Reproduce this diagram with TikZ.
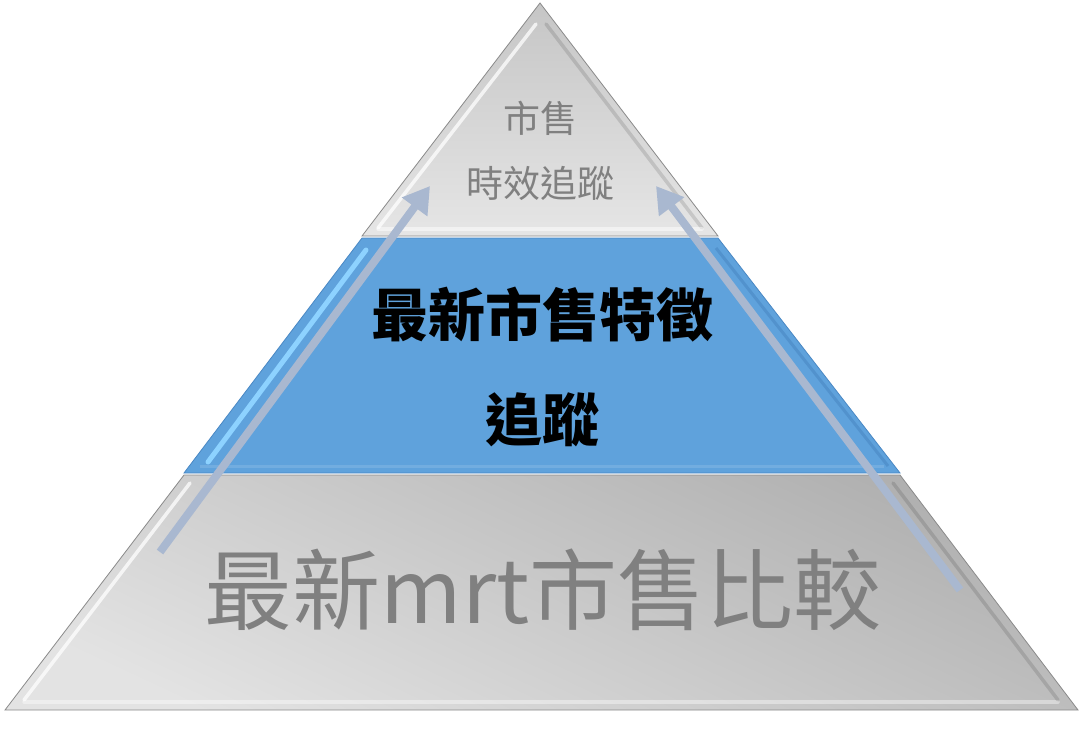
\documentclass[tikz,border=0pt]{standalone}
\usepackage{fontspec}
\newfontfamily\cjk{Noto Sans CJK TC}
\usetikzlibrary{arrows.meta}
\definecolor{bandblue}{HTML}{5FA2DC}
\definecolor{bandlight}{HTML}{8DD2FF}
\definecolor{banddark}{HTML}{4A88C4}
\definecolor{arrowcol}{HTML}{A9B8D0}
\definecolor{txtgray}{HTML}{808080}
\definecolor{edgegray}{HTML}{8A8A8A}
\tikzset{
  layeredge/.style={draw=edgegray, line width=0.8pt},
  hilite/.style={white, line width=3.5pt, opacity=0.75, line cap=round},
  shadowline/.style={black, line width=3.5pt, opacity=0.12, line cap=round},
  flow/.style={draw=arrowcol, line width=8pt, -{Triangle[width=30pt,length=26pt]}},
  graytxt/.style={font=\cjk, text=txtgray, inner sep=0pt},
  boldtxt/.style={font=\cjk\bfseries, text=black, inner sep=0pt}
}
\begin{document}
\begin{tikzpicture}[x=1pt,y=-1pt]
\useasboundingbox (0,0) rectangle (1083,739);
% bottom layer
\shade[top color=gray!62, bottom color=gray!22, shading angle=-25]
  (184,475) -- (900,475) -- (1078,710) -- (5,710) -- cycle;
\draw[layeredge] (184,475) -- (900,475) -- (1078,710) -- (5,710) -- cycle;
\draw[hilite] (24,700) -- (190,483);
\draw[hilite, opacity=0.4] (24,702) -- (1058,702);
\draw[shadowline] (893,483) -- (1058,700);
% middle band
\fill[bandblue] (362,238) -- (718,238) -- (900,473) -- (184,473) -- cycle;
\draw[draw=banddark, line width=0.8pt] (362,238) -- (718,238) -- (900,473) -- (184,473) -- cycle;
\draw[bandlight, line width=5pt, line cap=round] (208,462) -- (366,250);
\draw[banddark, line width=3pt, opacity=0.6] (716,248) -- (888,466);
\draw[white, line width=3pt, opacity=0.12] (200,466) -- (884,466);
% top layer
\shade[top color=gray!45, bottom color=gray!20]
  (540,3) -- (718,236) -- (362,236) -- cycle;
\draw[layeredge] (540,3) -- (718,236) -- (362,236) -- cycle;
\draw[hilite] (536,24) -- (378,228);
\draw[shadowline] (546,24) -- (702,228);
\draw[hilite, opacity=0.5] (378,229) -- (702,229);
% texts
\node[graytxt, font=\cjk\fontsize{37}{40}\selectfont] (t1) at (540,118) {市售};
\node[graytxt, font=\cjk\fontsize{37}{40}\selectfont] (t2) at (540,183) {時效追蹤};
\node[boldtxt, font=\cjk\bfseries\fontsize{57}{60}\selectfont] (m1) at (542,315) {最新市售特徵};
\node[boldtxt, font=\cjk\bfseries\fontsize{57}{60}\selectfont] (m2) at (542,420) {追蹤};
\node[graytxt, font=\cjk\fontsize{88}{92}\selectfont] (b1) at (543,590) {最新mrt市售比較};
% arrows
\coordinate (la) at (160,552);
\coordinate (lb) at (430,186);
\coordinate (ra) at (960,590);
\coordinate (rb) at (656,186);
\draw[flow] (la) -- (lb);
\draw[flow] (ra) -- (rb);
\end{tikzpicture}
\end{document}
